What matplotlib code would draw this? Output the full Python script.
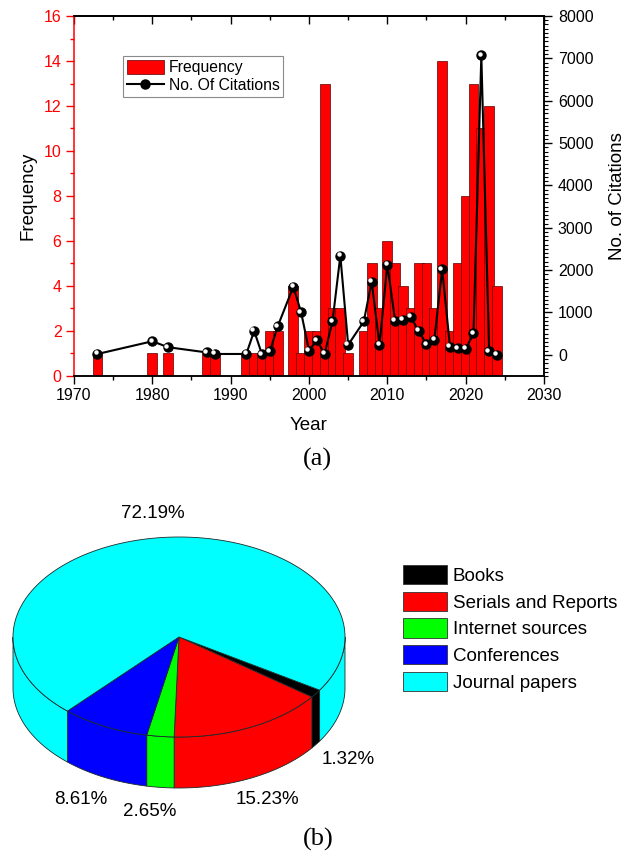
"""Publications per year with citations (a) and share of reference types (b)."""
import numpy as np
import matplotlib
matplotlib.use("Agg")
import matplotlib.pyplot as plt
import matplotlib.ticker as ticker
from matplotlib.patches import Polygon, Patch
from matplotlib.transforms import ScaledTranslation

plt.rcParams["font.family"] = ["Liberation Sans", "DejaVu Sans"]

# ── data ─────────────────────────────────────────────────────────────────────

YEARS = [1973, 1980, 1982, 1987, 1988,
         1992, 1993, 1994, 1995, 1996,
         1998, 1999, 2000, 2001, 2002, 2003, 2004, 2005,
         2007, 2008, 2009, 2010, 2011, 2012, 2013, 2014, 2015, 2016,
         2017, 2018, 2019, 2020, 2021, 2022, 2023, 2024]
FREQ = [1, 1, 1, 1, 1,
        1, 1, 1, 2, 2,
        4, 1, 2, 2, 13, 3, 3, 1,
        2, 5, 3, 6, 5, 4, 3, 5, 5, 3,
        14, 2, 5, 8, 13, 11, 12, 4]
CITES = [20, 320, 180, 55, 20,
         20, 565, 10, 80, 670,
         1610, 1000, 100, 340, 25, 790, 2340, 235,
         790, 1730, 230, 2130, 800, 820, 890, 565, 250, 360,
         2020, 190, 155, 135, 510, 7070, 80, 5]

SOURCES = ["Books", "Serials and Reports", "Internet sources", "Conferences", "Journal papers"]
SHARES = [1.32, 15.23, 2.65, 8.61, 72.19]
COLORS = ["#000000", "#ff0000", "#00ff00", "#0000ff", "#00ffff"]

# ── figure ───────────────────────────────────────────────────────────────────

W, H = 630, 852
fig = plt.figure(figsize=(W / 100, H / 100), dpi=100)

# background axes in pixel units, for the 3D pie and captions
axp = fig.add_axes([0, 0, 1, 1])
axp.set_xlim(0, W)
axp.set_ylim(H, 0)
axp.axis("off")

# ── (a) bars + citations ─────────────────────────────────────────────────────

ax = fig.add_axes([74 / W, 1 - 376 / H, (544 - 74) / W, (376 - 16) / H])
ax2 = ax.twinx()

bars = ax.bar(YEARS, FREQ, width=1.25, color="#ff0000", edgecolor="#5a0000",
              linewidth=0.5, label="Frequency")
line, = ax2.plot(YEARS, CITES, color="black", lw=1.5, marker="o", ms=6.5,
                 mfc="black", mec="black", label="No. Of Citations")
# little shine on the ball markers
shine = ax2.transData + ScaledTranslation(-1.2 / 72, 1.2 / 72, fig.dpi_scale_trans)
ax2.plot(YEARS, CITES, ls="none", marker="o", ms=2.2, color="white", transform=shine)

ax.set_xlim(1970, 2030)
ax.set_ylim(0, 16)
ax2.set_ylim(-500, 8000)

ax.xaxis.set_major_locator(ticker.MultipleLocator(10))
ax.xaxis.set_minor_locator(ticker.MultipleLocator(5))
ax.yaxis.set_major_locator(ticker.MultipleLocator(2))
ax.yaxis.set_minor_locator(ticker.MultipleLocator(1))
ax2.yaxis.set_major_locator(ticker.FixedLocator(np.arange(0, 8001, 1000)))
ax2.yaxis.set_minor_locator(ticker.MultipleLocator(100))

ax.tick_params(axis="x", which="major", direction="out", length=6, width=1, labelsize=11.5, pad=3)
ax.tick_params(axis="x", which="minor", direction="out", length=3, width=1)
ax.tick_params(axis="y", which="both", colors="red", direction="out", width=1)
ax.tick_params(axis="y", which="major", length=6, labelsize=11.5, pad=3)
ax.tick_params(axis="y", which="minor", length=3)
ax2.tick_params(axis="y", which="major", direction="out", length=6, width=1, labelsize=11.5, pad=4)
ax2.tick_params(axis="y", which="minor", direction="out", length=3, width=0.8)

sec = ax.secondary_xaxis("top")
sec.xaxis.set_major_locator(ticker.MultipleLocator(10))
sec.xaxis.set_minor_locator(ticker.MultipleLocator(5))
sec.tick_params(which="major", direction="in", length=6, width=1, labeltop=False)
sec.tick_params(which="minor", direction="in", length=3, width=1)

for a in (ax, ax2, sec):
    for s in a.spines.values():
        s.set_linewidth(1.1)
ax.spines["left"].set_color("red")
ax2.spines["left"].set_visible(False)

ax.set_xlabel("Year", fontsize=13.5, labelpad=10)
ax.set_ylabel("Frequency", fontsize=13.5, labelpad=5)
ax2.set_ylabel("No. of Citations", fontsize=13.5, labelpad=11)

leg = ax2.legend([bars, line], ["Frequency", "No. Of Citations"], loc="upper left",
                 bbox_to_anchor=(123 / W, 1 - 56 / H), bbox_transform=fig.transFigure,
                 fontsize=11.3, frameon=True, fancybox=False, framealpha=1,
                 edgecolor="#8a8a8a", borderpad=0.25, borderaxespad=0,
                 handlelength=2.35, handleheight=1.0, handletextpad=0.3,
                 labelspacing=0.15)
leg.get_frame().set_linewidth(0.8)

# ── (b) 3D pie ───────────────────────────────────────────────────────────────

CX, CY, RX, RY, DEPTH = 179, 637, 166, 100, 51
START = -32.1   # degrees, slices run clockwise from here
EDGE = dict(edgecolor="#1c2a2a", linewidth=0.6)


def arc(t0, t1, n=80):
    t = np.radians(np.linspace(t0, t1, n))
    return CX + RX * np.cos(t), CY - RY * np.sin(t)


cum = np.concatenate([[0], np.cumsum(SHARES)]) / 100.0
spans = [(START - 360 * cum[i + 1], START - 360 * cum[i]) for i in range(len(SHARES))]

# side walls (front half only)
for (lo, hi), col in zip(spans, COLORS):
    for k in range(-2, 2):
        v0, v1 = max(lo, 180 + 360 * k), min(hi, 360 + 360 * k)
        if v1 <= v0:
            continue
        xs, ys = arc(v0, v1)
        pts = np.vstack([np.column_stack([xs, ys]),
                         np.column_stack([xs[::-1], ys[::-1] + DEPTH])])
        axp.add_patch(Polygon(pts, closed=True, facecolor=col, **EDGE))

# top face
for (lo, hi), col in zip(spans, COLORS):
    xs, ys = arc(lo, hi, n=max(4, int(hi - lo) * 2))
    pts = np.vstack([[CX, CY], np.column_stack([xs, ys])])
    axp.add_patch(Polygon(pts, closed=True, facecolor=col, **EDGE))

label_pos = [(348, 760), (267, 800), (150, 812), (81, 800), (153, 513)]
for share, (px, py) in zip(SHARES, label_pos):
    axp.text(px, py, f"{share:.2f}%", fontsize=13.5, ha="center", va="center")

handles = [Patch(facecolor=c, edgecolor="#333333", linewidth=0.6) for c in COLORS]
fig.legend(handles, SOURCES, loc="upper left", bbox_to_anchor=(403 / W, 1 - 565 / H),
           fontsize=13.5, frameon=False, borderpad=0, borderaxespad=0,
           handlelength=2.35, handleheight=1.2, handletextpad=0.3, labelspacing=0.36)

axp.text(317, 459, "(a)", fontsize=19, family="Liberation Serif", ha="center", va="center")
axp.text(318, 839, "(b)", fontsize=19, family="Liberation Serif", ha="center", va="center")

fig.savefig("out.png", dpi=100)
